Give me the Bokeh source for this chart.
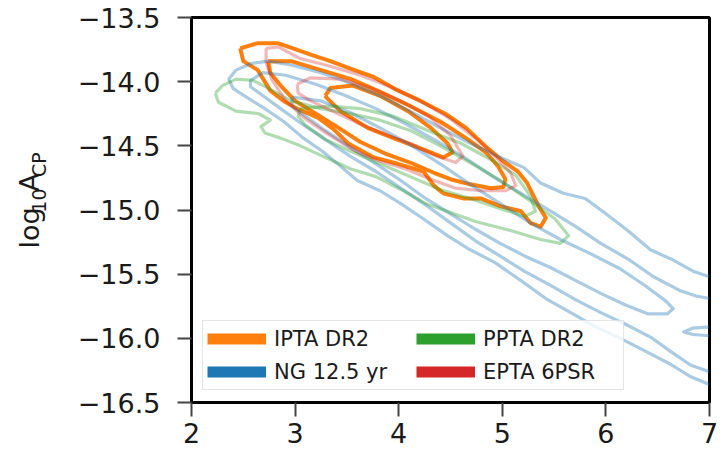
import numpy as np
from bokeh.plotting import figure
from bokeh.layouts import row
from bokeh.models import Range1d, FixedTicker, Legend, LegendItem
from bokeh.core.properties import value
from bokeh.embed import file_html
from bokeh.resources import INLINE

# ---- axes ----
x_ticks = [2, 3, 4, 5, 6, 7]
y_ticks = [-16.5, -16.0, -15.5, -15.0, -14.5, -14.0, -13.5]
y_tick_labels = ["\u221216.5", "\u221216.0", "\u221215.5", "\u221215.0",
                 "\u221214.5", "\u221214.0", "\u221213.5"]

# ---- credible-region contours in (gamma, log10 A_CP) ----
# IPTA DR2 (closed contours, outer -> inner)
ipta_outer = [(2.47, -13.74), (2.64, -13.70), (2.83, -13.70), (2.98, -13.74), (3.15, -13.79),
              (3.34, -13.84), (3.54, -13.90), (3.75, -13.96), (3.97, -14.06), (4.21, -14.15),
              (4.45, -14.25), (4.65, -14.36), (4.86, -14.52), (5.01, -14.62), (5.15, -14.70),
              (5.24, -14.79), (5.35, -14.97), (5.42, -15.06), (5.37, -15.13), (5.27, -15.10),
              (5.18, -15.01), (4.98, -14.97), (4.79, -14.91), (4.63, -14.91), (4.43, -14.87),
              (4.34, -14.81), (4.24, -14.70), (3.99, -14.64), (3.76, -14.59), (3.51, -14.48),
              (3.37, -14.37), (3.22, -14.28), (3.02, -14.21), (2.89, -14.15), (2.76, -14.07),
              (2.70, -13.99), (2.64, -13.91), (2.50, -13.84)]
ipta_mid = [(2.74, -13.84), (2.96, -13.84), (3.25, -13.91), (3.54, -13.98), (3.82, -14.08),
            (4.11, -14.19), (4.40, -14.31), (4.65, -14.44), (4.84, -14.55), (4.96, -14.66),
            (5.03, -14.76), (5.01, -14.82), (4.89, -14.83), (4.69, -14.80), (4.50, -14.76),
            (4.34, -14.71), (4.11, -14.63), (3.87, -14.56), (3.63, -14.47), (3.42, -14.36),
            (3.20, -14.25), (3.00, -14.15), (2.86, -14.03), (2.76, -13.93)]
ipta_inner = [(3.29, -14.11), (3.34, -14.05), (3.56, -14.03), (3.82, -14.11), (4.09, -14.23),
              (4.31, -14.36), (4.47, -14.48), (4.52, -14.55), (4.43, -14.59), (4.21, -14.52),
              (3.95, -14.44), (3.70, -14.36), (3.44, -14.23), (3.31, -14.13)]

# NANOGrav 12.5 yr (outer two run off the gamma = 7 edge)
ng_outer = [(7.00, -15.52), (6.85, -15.48), (6.65, -15.39), (6.43, -15.31), (6.21, -15.16),
            (6.00, -15.03), (5.80, -14.91), (5.59, -14.87), (5.37, -14.79), (5.21, -14.67),
            (4.98, -14.59), (4.69, -14.48), (4.40, -14.36), (4.11, -14.23), (3.82, -14.11),
            (3.53, -14.01), (3.25, -13.93), (2.96, -13.87), (2.74, -13.84), (2.57, -13.86),
            (2.43, -13.91), (2.36, -13.98), (2.40, -14.05), (2.47, -14.09), (2.69, -14.20),
            (2.89, -14.31), (3.08, -14.44), (3.26, -14.54), (3.44, -14.66), (3.60, -14.77),
            (3.82, -14.85), (4.02, -14.95), (4.24, -15.07), (4.47, -15.20), (4.69, -15.31),
            (4.93, -15.41), (5.18, -15.55), (5.42, -15.69), (5.66, -15.80), (5.90, -15.91),
            (6.14, -16.00), (6.38, -16.10), (6.62, -16.20), (6.82, -16.30), (7.00, -16.36)]
ng_mid = [(7.00, -15.69), (6.87, -15.67), (6.72, -15.63), (6.46, -15.52), (6.21, -15.38),
          (5.95, -15.26), (5.71, -15.13), (5.47, -15.01), (5.22, -14.89), (4.93, -14.75),
          (4.65, -14.60), (4.36, -14.46), (4.07, -14.33), (3.78, -14.21), (3.49, -14.11),
          (3.20, -14.02), (2.91, -13.95), (2.69, -13.93), (2.57, -13.99), (2.57, -14.04),
          (2.69, -14.11), (2.86, -14.21), (3.05, -14.32), (3.29, -14.45), (3.53, -14.58),
          (3.78, -14.70), (4.02, -14.83), (4.26, -14.96), (4.50, -15.10), (4.74, -15.24),
          (4.98, -15.36), (5.22, -15.48), (5.47, -15.59), (5.71, -15.70), (5.95, -15.80),
          (6.19, -15.89), (6.43, -15.99), (6.62, -16.10), (6.82, -16.21), (7.00, -16.26)]
ng_inner = [(2.97, -14.12), (3.25, -14.15), (3.53, -14.24), (3.82, -14.36), (4.11, -14.49),
            (4.40, -14.64), (4.69, -14.80), (4.98, -14.95), (5.27, -15.10), (5.56, -15.23),
            (5.85, -15.34), (6.14, -15.46), (6.38, -15.59), (6.58, -15.71), (6.65, -15.77),
            (6.59, -15.81), (6.41, -15.81), (6.19, -15.74), (5.95, -15.65), (5.71, -15.55),
            (5.47, -15.45), (5.22, -15.36), (4.98, -15.26), (4.74, -15.15), (4.50, -15.03),
            (4.26, -14.91), (4.02, -14.77), (3.78, -14.64), (3.53, -14.51), (3.29, -14.38),
            (3.10, -14.27), (2.97, -14.19)]
ng_edge = [(7.00, -15.91), (6.84, -15.92), (6.75, -15.95), (6.84, -15.97), (7.00, -15.98)]

# PPTA DR2
ppta_outer = [(2.23, -14.09), (2.30, -14.03), (2.43, -13.98), (2.59, -13.99), (2.74, -14.05),
              (2.96, -14.15), (3.25, -14.21), (3.54, -14.25), (3.82, -14.30), (4.11, -14.38),
              (4.40, -14.50), (4.69, -14.63), (4.98, -14.77), (5.27, -14.93), (5.51, -15.07),
              (5.64, -15.20), (5.56, -15.26), (5.37, -15.23), (5.08, -15.16), (4.74, -15.09),
              (4.50, -15.02), (4.26, -14.95), (4.02, -14.84), (3.78, -14.74), (3.54, -14.68),
              (3.29, -14.59), (3.05, -14.50), (2.86, -14.44), (2.71, -14.40), (2.67, -14.35),
              (2.76, -14.30), (2.65, -14.25), (2.43, -14.23), (2.26, -14.16)]
ppta_inner = [(3.05, -14.21), (3.34, -14.19), (3.63, -14.21), (3.95, -14.27), (4.28, -14.38),
              (4.60, -14.48), (4.92, -14.62), (5.13, -14.73), (5.27, -14.89), (5.32, -15.01),
              (5.22, -15.05), (4.98, -14.99), (4.69, -14.91), (4.40, -14.84), (4.11, -14.74),
              (3.82, -14.64), (3.53, -14.54), (3.29, -14.45), (3.10, -14.34), (3.03, -14.27)]

# EPTA 6PSR
epta_outer = [(2.72, -13.74), (2.84, -13.73), (3.05, -13.82), (3.34, -13.88), (3.63, -13.95),
              (3.92, -14.04), (4.21, -14.15), (4.50, -14.29), (4.74, -14.44), (4.93, -14.58),
              (5.08, -14.71), (5.13, -14.81), (5.03, -14.85), (4.79, -14.85), (4.55, -14.83),
              (4.31, -14.76), (4.07, -14.68), (3.82, -14.62), (3.58, -14.54), (3.34, -14.42),
              (3.10, -14.29), (2.91, -14.15), (2.78, -13.99), (2.72, -13.85)]
epta_inner = [(3.02, -14.02), (3.15, -13.97), (3.44, -13.98), (3.73, -14.05), (4.02, -14.15),
              (4.29, -14.27), (4.50, -14.42), (4.62, -14.58), (4.55, -14.63), (4.36, -14.58),
              (4.11, -14.48), (3.87, -14.41), (3.63, -14.33), (3.39, -14.24), (3.15, -14.15),
              (3.03, -14.09)]

ORANGE, BLUE, GREEN, RED = "#ff7f0e", "#1f77b4", "#2ca02c", "#d62728"
FONT = "DejaVu Sans"
TEXT = "#1a1a1a"


def to_xs_ys(contours, closed):
    xs, ys = [], []
    for pts, c in zip(contours, closed):
        gx = [q[0] for q in pts]
        gy = [q[1] for q in pts]
        if c:
            gx.append(gx[0])
            gy.append(gy[0])
        xs.append(gx)
        ys.append(gy)
    return xs, ys


# ---- narrow strip holding the rotated y-axis title (with subscripts) ----
TITLE_W = 60
t = figure(width=TITLE_W, height=460, output_backend="svg", toolbar_location=None,
           x_range=Range1d(0, TITLE_W), y_range=Range1d(0, 460),
           x_axis_type=None, y_axis_type=None,
           min_border=0, outline_line_color=None)
t.grid.visible = False
t.background_fill_color = "white"
t.border_fill_color = "white"
# pieces: text, centre x, centre y (pixels up from the strip bottom), font size
title_parts = [("log", 28.5, 208.6, "27px"), ("10", 38.5, 241.3, "19px"),
               ("A", 28.5, 262.7, "27px"), ("CP", 38.5, 284.3, "19px")]
for txt, cx, cy, fs in title_parts:
    t.text(x=[cx], y=[cy], text=[txt], angle=np.pi / 2,
           text_font=value(FONT), text_font_size=value(fs), text_color=TEXT,
           text_align="center", text_baseline="middle")

# ---- main panel ----
p = figure(width=725 - TITLE_W, height=460, output_backend="svg", toolbar_location=None,
           x_range=Range1d(2, 7), y_range=Range1d(-16.5, -13.5),
           min_border_left=191 - TITLE_W, min_border_right=16, min_border_top=17,
           min_border_bottom=58)
p.background_fill_color = "white"
p.border_fill_color = "white"
p.xgrid.visible = False
p.ygrid.visible = False
p.outline_line_color = "black"
p.outline_line_width = 3

# IPTA underneath, translucent datasets drawn over it
xs, ys = to_xs_ys([ipta_outer, ipta_mid, ipta_inner], [True, True, True])
p.multi_line(xs=xs, ys=ys, line_color=ORANGE, line_width=4, line_join="round")

xs, ys = to_xs_ys([ng_outer, ng_mid, ng_inner, ng_edge], [False, False, True, False])
p.multi_line(xs=xs, ys=ys, line_color=BLUE, line_alpha=0.38, line_width=3.2, line_join="round")

xs, ys = to_xs_ys([ppta_outer, ppta_inner], [True, True])
p.multi_line(xs=xs, ys=ys, line_color=GREEN, line_alpha=0.37, line_width=3.2, line_join="round")

xs, ys = to_xs_ys([epta_outer, epta_inner], [True, True])
p.multi_line(xs=xs, ys=ys, line_color=RED, line_alpha=0.33, line_width=3.2, line_join="round")

# solid legend handles (proxy renderers with no visible points)
handles = {}
for name, col in [("IPTA DR2", ORANGE), ("NG 12.5 yr", BLUE),
                  ("PPTA DR2", GREEN), ("EPTA 6PSR", RED)]:
    handles[name] = p.line(x=np.array([np.nan, np.nan]), y=np.array([np.nan, np.nan]),
                           line_color=col, line_width=11)

legend = Legend(items=[LegendItem(label=k, renderers=[v]) for k, v in handles.items()],
                ncols=2, location=(11, 12), margin=0, padding=4, spacing=6,
                glyph_width=59, glyph_height=27, label_height=27, label_width=136,
                label_standoff=8, label_text_font=FONT, label_text_font_size="21px",
                label_text_color=TEXT, border_line_color="#cccccc",
                border_line_width=1.5, background_fill_alpha=0.8)
p.add_layout(legend, "center")

# axes
for ax in (p.xaxis[0], p.yaxis[0]):
    ax.major_label_text_font = FONT
    ax.major_label_text_font_size = "27px"
    ax.major_label_text_color = TEXT
    ax.major_tick_out = 14
    ax.major_tick_in = 0
    ax.major_tick_line_color = "#444444"
    ax.major_tick_line_width = 2
    ax.minor_tick_line_color = None
    ax.axis_line_color = "black"
    ax.axis_line_width = 3

p.xaxis.ticker = FixedTicker(ticks=x_ticks)
p.xaxis.major_label_standoff = 6
p.yaxis.ticker = FixedTicker(ticks=y_ticks)
p.yaxis.major_label_overrides = dict(zip(y_ticks, y_tick_labels))
p.yaxis.major_label_standoff = 17

layout = row(t, p, spacing=0)
open("out.html", "w").write(file_html(layout, INLINE))
